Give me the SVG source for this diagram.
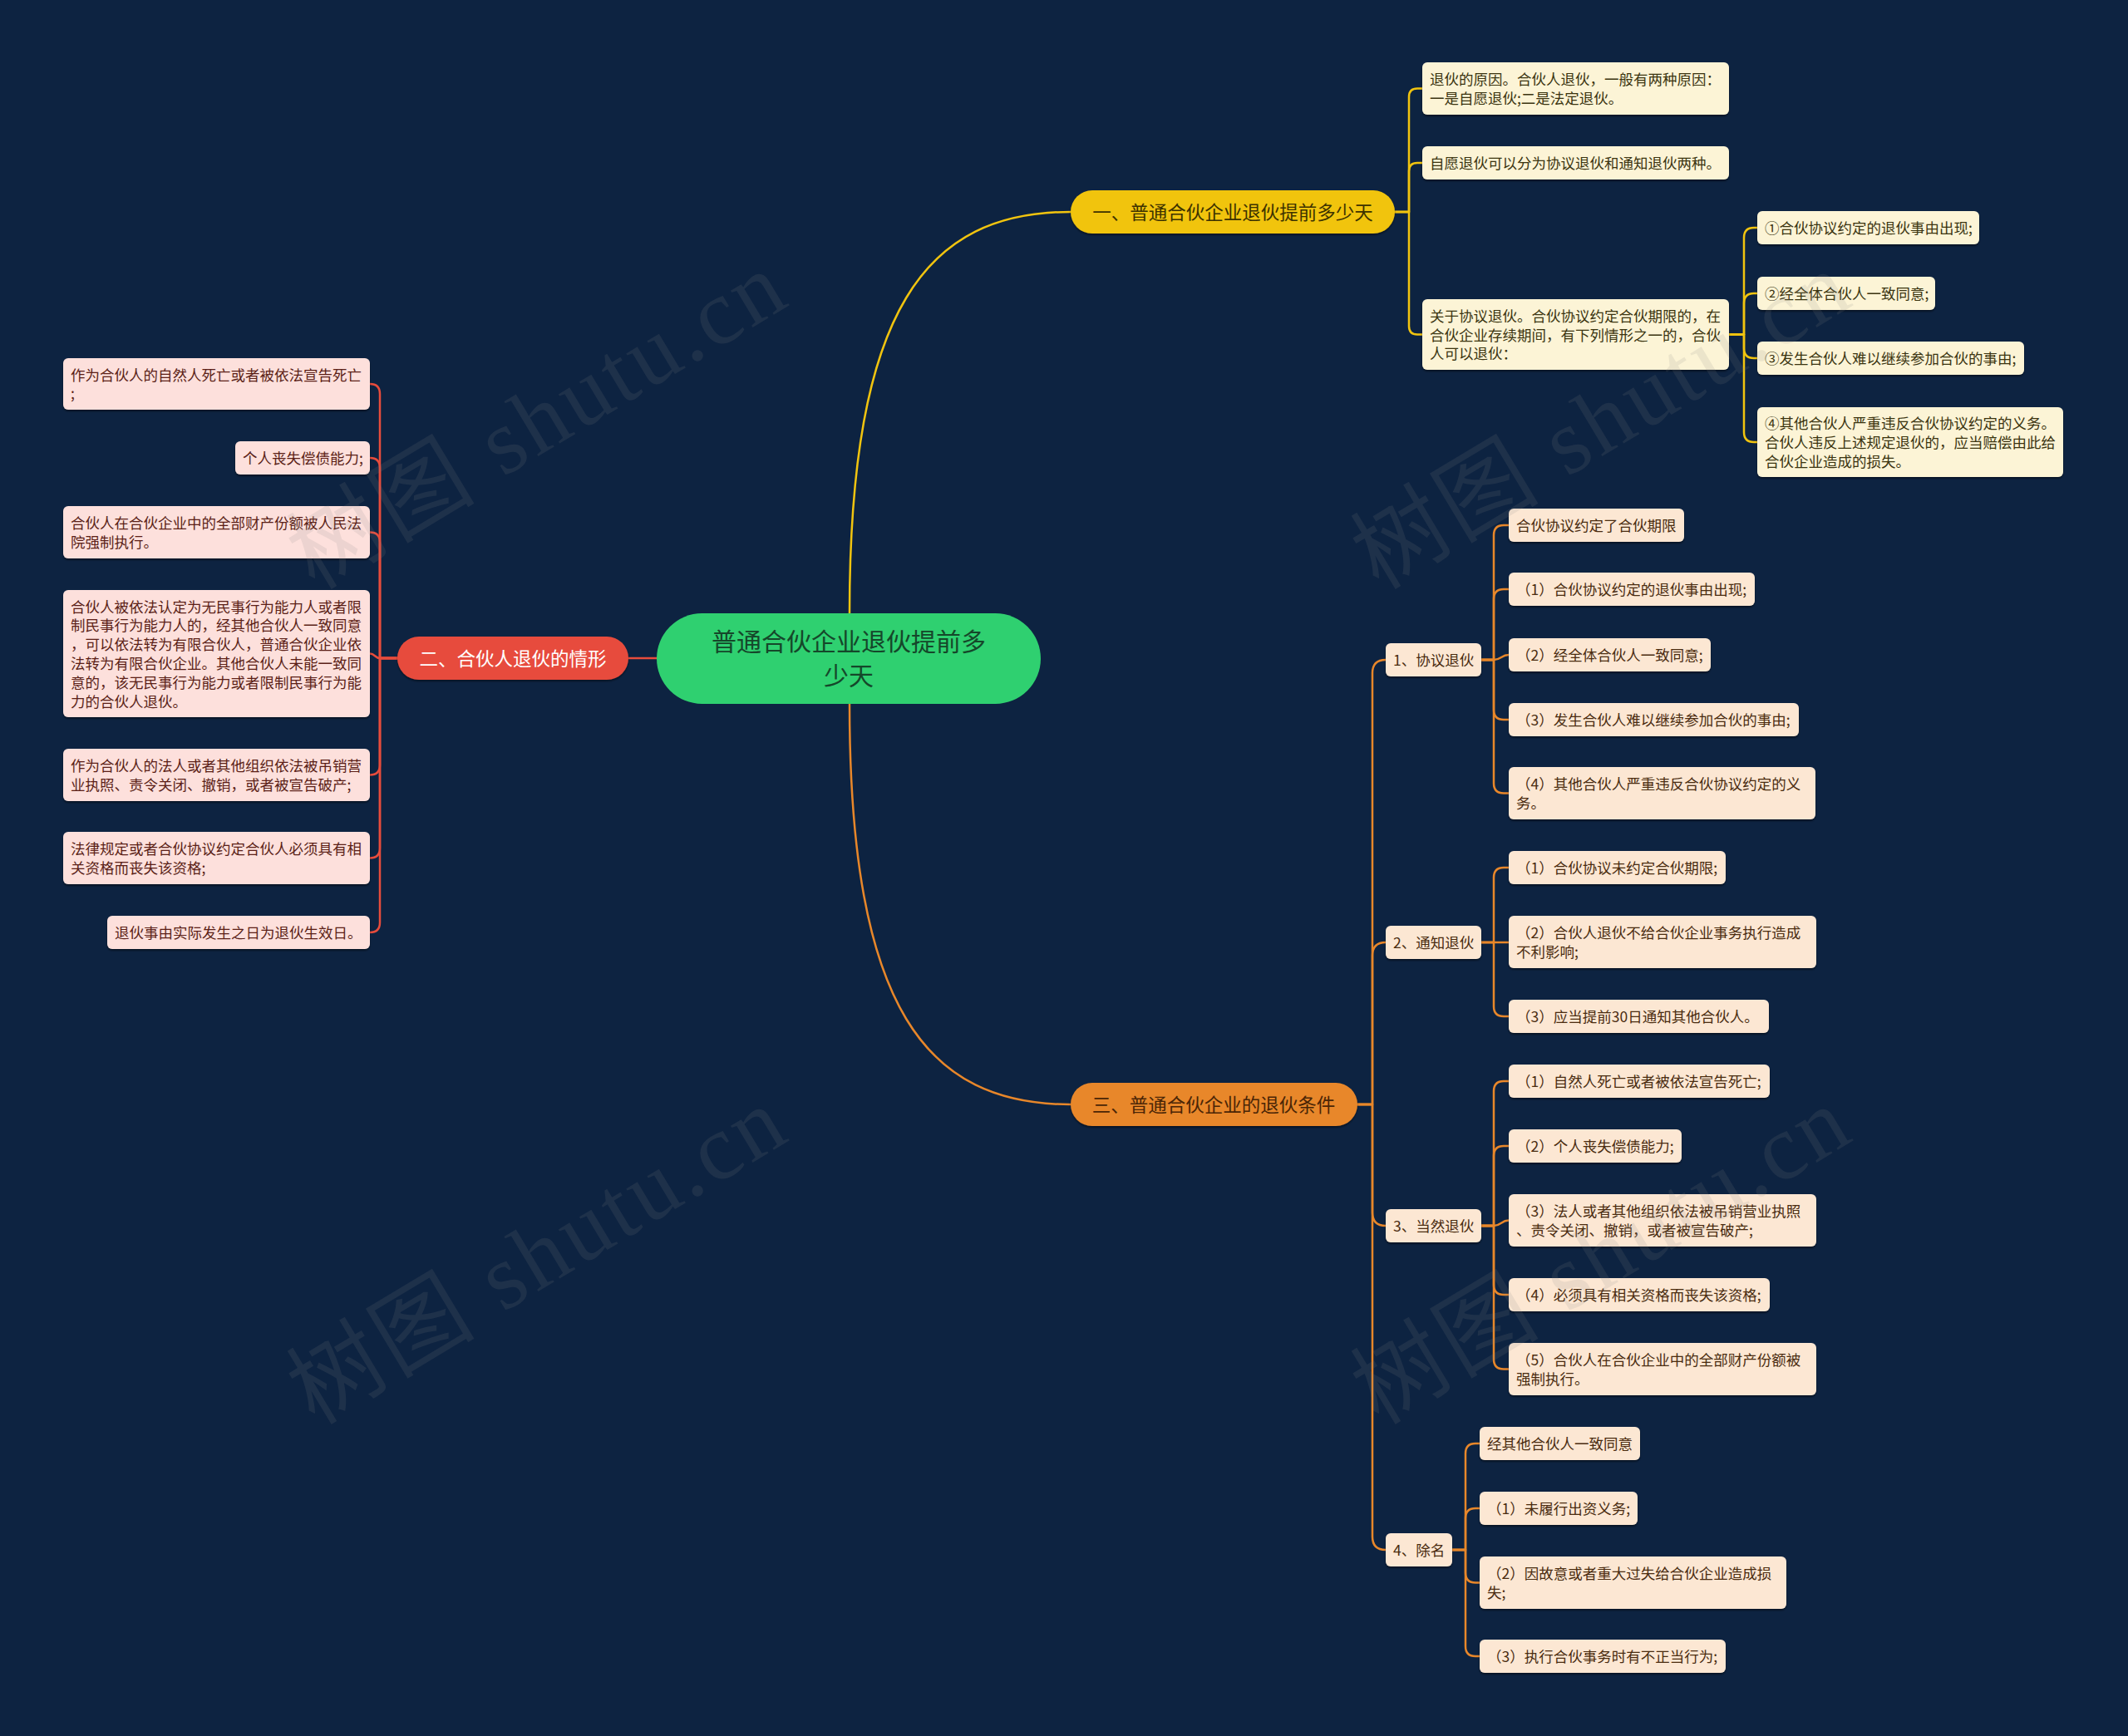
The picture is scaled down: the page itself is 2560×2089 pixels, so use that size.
<svg xmlns="http://www.w3.org/2000/svg" width="2560" height="2089" viewBox="0 0 2560 2089">
<defs>
<style>
.t{font-family:"Noto Sans CJK SC","Noto Sans",sans-serif}
.s{font-size:17.5px}
.m{font-size:22.5px}
.ty{fill:#3b3410}.tr{fill:#5b1f17}.to{fill:#4a2c10}
.by{fill:#fcf4d6}.br{fill:#fde0dc}.bo{fill:#fce7d3}
.c{fill:none;stroke-width:2.5;stroke-linecap:round;stroke-linejoin:round}
.cy{stroke:#f1c40f}.cr{stroke:#e74c3c}.co{stroke:#e8872a}
.wm{font-family:"Liberation Serif","Noto Sans CJK SC",serif;font-size:112px;fill:#8a8a8a;fill-opacity:0.14;letter-spacing:4px}
</style>
<filter id="sh" x="-10%" y="-20%" width="120%" height="150%">
<feDropShadow dx="0" dy="2" stdDeviation="1.2" flood-color="#000" flood-opacity="0.45"/>
</filter>
</defs>
<rect width="2560" height="2089" fill="#0d2341"/>

<g id="connectors">
<path class="c cy" stroke-width="3" d="M 1022 738 C 1022 370 1115 255 1288 255"/>
<path class="c co" stroke-width="3" d="M 1022 847 C 1022 1215 1115 1329 1288 1329"/>
<path class="c cr" stroke-width="3" d="M 790 792 H 756"/>

<path class="c cy" d="M 1678 255 H 1695 V 116.5 Q 1695 106.5 1705 106.5 H 1711"/>
<path class="c cy" d="M 1678 255 H 1695 V 206 Q 1695 196 1705 196 H 1711"/>
<path class="c cy" d="M 1678 255 H 1695 V 392.5 Q 1695 402.5 1705 402.5 H 1711"/>

<path class="c cy" d="M 2080 402.5 H 2098 V 286 Q 2098 274 2110 274 H 2114"/>
<path class="c cy" d="M 2080 402.5 H 2098 V 365 Q 2098 353 2110 353 H 2114"/>
<path class="c cy" d="M 2080 402.5 H 2098 V 419 Q 2098 431 2110 431 H 2114"/>
<path class="c cy" d="M 2080 402.5 H 2098 V 520 Q 2098 532 2110 532 H 2114"/>

<path class="c cr" d="M 478 792 H 457 V 474 Q 457 462 445 462"/>
<path class="c cr" d="M 478 792 H 457 V 563 Q 457 551 445 551"/>
<path class="c cr" d="M 478 792 H 457 V 652.5 Q 457 640.5 445 640.5"/>
<path class="c cr" d="M 478 792 H 457 C 451 792 451 786.5 445 786.5"/>
<path class="c cr" d="M 478 792 H 457 V 920.5 Q 457 932.5 445 932.5"/>
<path class="c cr" d="M 478 792 H 457 V 1020.5 Q 457 1032.5 445 1032.5"/>
<path class="c cr" d="M 478 792 H 457 V 1110 Q 457 1122 445 1122"/>

<path class="c co" d="M 1633 1329 H 1651 V 810 Q 1651 794 1667 794"/>
<path class="c co" d="M 1633 1329 H 1651 V 1150 Q 1651 1134 1667 1134"/>
<path class="c co" d="M 1633 1329 H 1651 V 1459 Q 1651 1475 1667 1475"/>
<path class="c co" d="M 1633 1329 H 1651 V 1849 Q 1651 1865 1667 1865"/>

<path class="c co" d="M 1782 794 H 1797 V 644 Q 1797 632 1809 632 H 1815"/>
<path class="c co" d="M 1782 794 H 1797 V 721 Q 1797 709 1809 709 H 1815"/>
<path class="c co" d="M 1782 794 H 1797 C 1806 794 1806 788 1815 788"/>
<path class="c co" d="M 1782 794 H 1797 V 854 Q 1797 866 1809 866 H 1815"/>
<path class="c co" d="M 1782 794 H 1797 V 942.5 Q 1797 954.5 1809 954.5 H 1815"/>

<path class="c co" d="M 1782 1134 H 1797 V 1056 Q 1797 1044 1809 1044 H 1815"/>
<path class="c co" d="M 1782 1134 H 1815"/>
<path class="c co" d="M 1782 1134 H 1797 V 1211 Q 1797 1223 1809 1223 H 1815"/>

<path class="c co" d="M 1782 1475 H 1797 V 1313 Q 1797 1301 1809 1301 H 1815"/>
<path class="c co" d="M 1782 1475 H 1797 V 1391 Q 1797 1379 1809 1379 H 1815"/>
<path class="c co" d="M 1782 1475 H 1797 C 1806 1475 1806 1468.5 1815 1468.5"/>
<path class="c co" d="M 1782 1475 H 1797 V 1546 Q 1797 1558 1809 1558 H 1815"/>
<path class="c co" d="M 1782 1475 H 1797 V 1635.5 Q 1797 1647.5 1809 1647.5 H 1815"/>

<path class="c co" d="M 1747 1865 H 1763 V 1749 Q 1763 1737 1775 1737 H 1780"/>
<path class="c co" d="M 1747 1865 H 1763 V 1827 Q 1763 1815 1775 1815 H 1780"/>
<path class="c co" d="M 1747 1865 H 1763 V 1892.5 Q 1763 1904.5 1775 1904.5 H 1780"/>
<path class="c co" d="M 1747 1865 H 1763 V 1981 Q 1763 1993 1775 1993 H 1780"/>
</g>

<g id="center">
<rect x="790" y="738" width="462" height="109" rx="54.5" fill="#2fd070"/>
<text class="t" font-size="30" fill="#15472a" text-anchor="middle"><tspan x="1021" y="783">普通合伙企业退伙提前多</tspan><tspan x="1021" y="824">少天</tspan></text>
</g>

<g id="b1">
<rect x="1288" y="229" width="390" height="52" rx="26" fill="#f1c40f" filter="url(#sh)"/>
<text class="t m" x="1483" y="263.5" fill="#3d3200" text-anchor="middle">一、普通合伙企业退伙提前多少天</text>
</g>
<g id="b2">
<rect x="478" y="766" width="278" height="52" rx="26" fill="#e74c3c" filter="url(#sh)"/>
<text class="t m" x="617" y="800.5" fill="#ffffff" text-anchor="middle">二、合伙人退伙的情形</text>
</g>
<g id="b3">
<rect x="1288" y="1303" width="345" height="52" rx="26" fill="#e8872a" filter="url(#sh)"/>
<text class="t m" x="1460" y="1337.5" fill="#4a2506" text-anchor="middle">三、普通合伙企业的退伙条件</text>
</g>

<g id="y1"><rect class="by" x="1711" y="75" width="369" height="63" rx="6" filter="url(#sh)"/>
<text class="t s ty"><tspan x="1720" y="102.1">退伙的原因。合伙人退伙，一般有两种原因：</tspan><tspan x="1720" y="124.9">一是自愿退伙;二是法定退伙。</tspan></text></g>
<g id="y2"><rect class="by" x="1711" y="176" width="369" height="40" rx="6" filter="url(#sh)"/>
<text class="t s ty" x="1720" y="203">自愿退伙可以分为协议退伙和通知退伙两种。</text></g>
<g id="y3"><rect class="by" x="1711" y="360" width="369" height="85" rx="6" filter="url(#sh)"/>
<text class="t s ty"><tspan x="1720" y="386.7">关于协议退伙。合伙协议约定合伙期限的，在</tspan><tspan x="1720" y="409.5">合伙企业存续期间，有下列情形之一的，合伙</tspan><tspan x="1720" y="432.3">人可以退伙：</tspan></text></g>
<g id="y3a"><rect class="by" x="2114" y="254" width="267" height="40" rx="6" filter="url(#sh)"/>
<text class="t s ty" x="2123" y="281">①合伙协议约定的退伙事由出现;</text></g>
<g id="y3b"><rect class="by" x="2114" y="333" width="214" height="40" rx="6" filter="url(#sh)"/>
<text class="t s ty" x="2123" y="360">②经全体合伙人一致同意;</text></g>
<g id="y3c"><rect class="by" x="2114" y="411" width="321" height="40" rx="6" filter="url(#sh)"/>
<text class="t s ty" x="2123" y="438">③发生合伙人难以继续参加合伙的事由;</text></g>
<g id="y3d"><rect class="by" x="2114" y="490" width="368" height="84" rx="6" filter="url(#sh)"/>
<text class="t s ty"><tspan x="2123" y="516.2">④其他合伙人严重违反合伙协议约定的义务。</tspan><tspan x="2123" y="539">合伙人违反上述规定退伙的，应当赔偿由此给</tspan><tspan x="2123" y="561.8">合伙企业造成的损失。</tspan></text></g>

<g id="r1"><rect class="br" x="76" y="431" width="369" height="62" rx="6" filter="url(#sh)"/>
<text class="t s tr"><tspan x="85" y="457.6">作为合伙人的自然人死亡或者被依法宣告死亡</tspan><tspan x="85" y="480.4">;</tspan></text></g>
<g id="r2"><rect class="br" x="283" y="531" width="162" height="40" rx="6" filter="url(#sh)"/>
<text class="t s tr" x="292" y="558">个人丧失偿债能力;</text></g>
<g id="r3"><rect class="br" x="76" y="609" width="369" height="63" rx="6" filter="url(#sh)"/>
<text class="t s tr"><tspan x="85" y="636.1">合伙人在合伙企业中的全部财产份额被人民法</tspan><tspan x="85" y="658.9">院强制执行。</tspan></text></g>
<g id="r4"><rect class="br" x="76" y="710" width="369" height="153" rx="6" filter="url(#sh)"/>
<text class="t s tr"><tspan x="85" y="736.5">合伙人被依法认定为无民事行为能力人或者限</tspan><tspan x="85" y="759.3">制民事行为能力人的，经其他合伙人一致同意</tspan><tspan x="85" y="782.1">，可以依法转为有限合伙人，普通合伙企业依</tspan><tspan x="85" y="804.9">法转为有限合伙企业。其他合伙人未能一致同</tspan><tspan x="85" y="827.7">意的，该无民事行为能力或者限制民事行为能</tspan><tspan x="85" y="850.5">力的合伙人退伙。</tspan></text></g>
<g id="r5"><rect class="br" x="76" y="901" width="369" height="63" rx="6" filter="url(#sh)"/>
<text class="t s tr"><tspan x="85" y="928.1">作为合伙人的法人或者其他组织依法被吊销营</tspan><tspan x="85" y="950.9">业执照、责令关闭、撤销，或者被宣告破产;</tspan></text></g>
<g id="r6"><rect class="br" x="76" y="1001" width="369" height="63" rx="6" filter="url(#sh)"/>
<text class="t s tr"><tspan x="85" y="1028.1">法律规定或者合伙协议约定合伙人必须具有相</tspan><tspan x="85" y="1050.9">关资格而丧失该资格;</tspan></text></g>
<g id="r7"><rect class="br" x="129" y="1102" width="316" height="40" rx="6" filter="url(#sh)"/>
<text class="t s tr" x="138" y="1129">退伙事由实际发生之日为退伙生效日。</text></g>

<g id="o1"><rect class="bo" x="1667" y="774" width="115" height="40" rx="6" filter="url(#sh)"/>
<text class="t s to" x="1676" y="801">1、协议退伙</text></g>
<g id="o2"><rect class="bo" x="1667" y="1114" width="115" height="40" rx="6" filter="url(#sh)"/>
<text class="t s to" x="1676" y="1141">2、通知退伙</text></g>
<g id="o3"><rect class="bo" x="1667" y="1455" width="115" height="40" rx="6" filter="url(#sh)"/>
<text class="t s to" x="1676" y="1482">3、当然退伙</text></g>
<g id="o4"><rect class="bo" x="1667" y="1845" width="80" height="40" rx="6" filter="url(#sh)"/>
<text class="t s to" x="1676" y="1872">4、除名</text></g>

<g id="o1a"><rect class="bo" x="1815" y="612" width="211" height="40" rx="6" filter="url(#sh)"/>
<text class="t s to" x="1824" y="639">合伙协议约定了合伙期限</text></g>
<g id="o1b"><rect class="bo" x="1815" y="689" width="296" height="40" rx="6" filter="url(#sh)"/>
<text class="t s to" x="1824" y="716">（1）合伙协议约定的退伙事由出现;</text></g>
<g id="o1c"><rect class="bo" x="1815" y="768" width="243" height="40" rx="6" filter="url(#sh)"/>
<text class="t s to" x="1824" y="795">（2）经全体合伙人一致同意;</text></g>
<g id="o1d"><rect class="bo" x="1815" y="846" width="349" height="40" rx="6" filter="url(#sh)"/>
<text class="t s to" x="1824" y="873">（3）发生合伙人难以继续参加合伙的事由;</text></g>
<g id="o1e"><rect class="bo" x="1815" y="923" width="369" height="63" rx="6" filter="url(#sh)"/>
<text class="t s to"><tspan x="1824" y="950.1">（4）其他合伙人严重违反合伙协议约定的义</tspan><tspan x="1824" y="972.9">务。</tspan></text></g>

<g id="o2a"><rect class="bo" x="1815" y="1024" width="261" height="40" rx="6" filter="url(#sh)"/>
<text class="t s to" x="1824" y="1051">（1）合伙协议未约定合伙期限;</text></g>
<g id="o2b"><rect class="bo" x="1815" y="1102" width="370" height="63" rx="6" filter="url(#sh)"/>
<text class="t s to"><tspan x="1824" y="1129.1">（2）合伙人退伙不给合伙企业事务执行造成</tspan><tspan x="1824" y="1151.9">不利影响;</tspan></text></g>
<g id="o2c"><rect class="bo" x="1815" y="1203" width="313" height="40" rx="6" filter="url(#sh)"/>
<text class="t s to" x="1824" y="1230">（3）应当提前30日通知其他合伙人。</text></g>

<g id="o3a"><rect class="bo" x="1815" y="1281" width="314" height="40" rx="6" filter="url(#sh)"/>
<text class="t s to" x="1824" y="1308">（1）自然人死亡或者被依法宣告死亡;</text></g>
<g id="o3b"><rect class="bo" x="1815" y="1359" width="208" height="40" rx="6" filter="url(#sh)"/>
<text class="t s to" x="1824" y="1386">（2）个人丧失偿债能力;</text></g>
<g id="o3c"><rect class="bo" x="1815" y="1437" width="370" height="63" rx="6" filter="url(#sh)"/>
<text class="t s to"><tspan x="1824" y="1464.1">（3）法人或者其他组织依法被吊销营业执照</tspan><tspan x="1824" y="1486.9">、责令关闭、撤销，或者被宣告破产;</tspan></text></g>
<g id="o3d"><rect class="bo" x="1815" y="1538" width="314" height="40" rx="6" filter="url(#sh)"/>
<text class="t s to" x="1824" y="1565">（4）必须具有相关资格而丧失该资格;</text></g>
<g id="o3e"><rect class="bo" x="1815" y="1616" width="370" height="63" rx="6" filter="url(#sh)"/>
<text class="t s to"><tspan x="1824" y="1643.1">（5）合伙人在合伙企业中的全部财产份额被</tspan><tspan x="1824" y="1665.9">强制执行。</tspan></text></g>

<g id="o4a"><rect class="bo" x="1780" y="1717" width="193" height="40" rx="6" filter="url(#sh)"/>
<text class="t s to" x="1789" y="1744">经其他合伙人一致同意</text></g>
<g id="o4b"><rect class="bo" x="1780" y="1795" width="190" height="40" rx="6" filter="url(#sh)"/>
<text class="t s to" x="1789" y="1822">（1）未履行出资义务;</text></g>
<g id="o4c"><rect class="bo" x="1780" y="1873" width="369" height="63" rx="6" filter="url(#sh)"/>
<text class="t s to"><tspan x="1789" y="1900.1">（2）因故意或者重大过失给合伙企业造成损</tspan><tspan x="1789" y="1922.9">失;</tspan></text></g>
<g id="o4d"><rect class="bo" x="1780" y="1973" width="296" height="40" rx="6" filter="url(#sh)"/>
<text class="t s to" x="1789" y="2000">（3）执行合伙事务时有不正当行为;</text></g>

<g id="watermark">
<text class="wm" text-anchor="middle" transform="translate(647 505) rotate(-31)" y="38">树图 shutu.cn</text>
<text class="wm" text-anchor="middle" transform="translate(1927 505) rotate(-31)" y="38">树图 shutu.cn</text>
<text class="wm" text-anchor="middle" transform="translate(647 1510) rotate(-31)" y="38">树图 shutu.cn</text>
<text class="wm" text-anchor="middle" transform="translate(1927 1510) rotate(-31)" y="38">树图 shutu.cn</text>
</g>
</svg>
